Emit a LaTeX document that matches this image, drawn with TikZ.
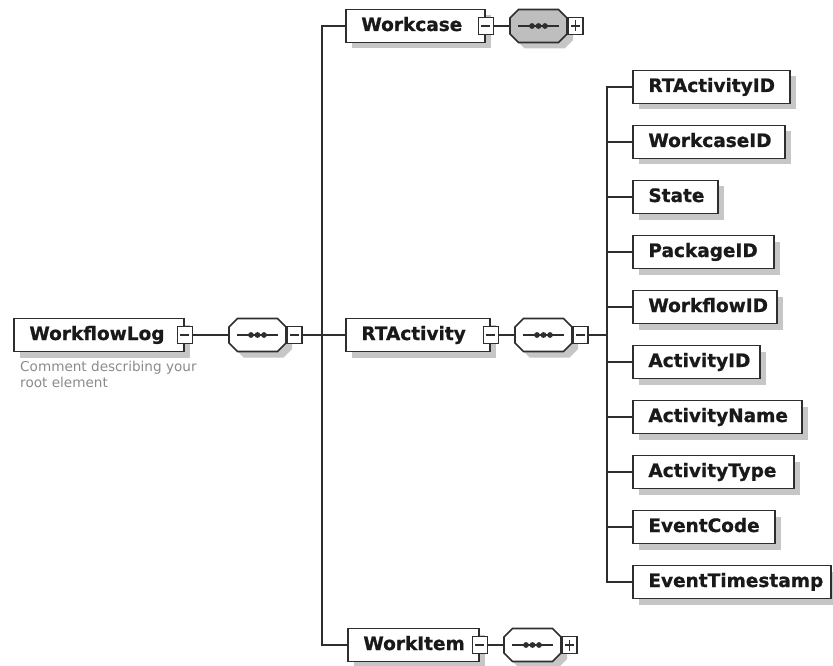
\documentclass[tikz,border=0pt]{standalone}
\usepackage{fontspec}
\setmainfont{DejaVu Sans}
\newfontfamily\elemfont{DejaVu Sans}[BoldFeatures={FakeBold=0.9}]
\usetikzlibrary{calc}

\definecolor{linecol}{HTML}{2E2E2E}
\definecolor{shadowgray}{HTML}{C6C6C6}
\definecolor{seqgray}{HTML}{BEBEBE}
\definecolor{notegray}{HTML}{8A8A8A}

% Sequence compositor: octagon with an ellipsis line, named rectangle node on top
\newcommand\compositor[4]{%
  \begin{scope}[shift={(#2,#3)}]
    \fill[shadowgray] (6,-2) -- (14.5,-10.5) -- (54.5,-10.5) -- (63,-2) -- (63,14) -- (54.5,22.5) -- (14.5,22.5) -- (6,14) -- cycle;
    \draw[linecol, line width=1.7pt, fill=#4] (0,-8) -- (8.5,-16.5) -- (48.5,-16.5) -- (57,-8) -- (57,8) -- (48.5,16.5) -- (8.5,16.5) -- (0,8) -- cycle;
    \draw[linecol, line width=1.4pt] (8,0) -- (49,0);
    \foreach \dx in {22,28.5,35} \fill[linecol] (\dx,0) circle[radius=2.9pt];
    \node[anchor=west, minimum width=57pt, minimum height=33pt, inner sep=0pt] (#1) at (0,0) {};
  \end{scope}}

\tikzset{
  x=1pt, y=-1pt,
  elem/.style={draw=linecol, line width=1.8pt, fill=white, anchor=west,
    minimum height=33pt, inner xsep=15.5pt, inner ysep=0pt, text width=#1, align=left,
    text height=13.5pt, text depth=3.5pt, text=black!90,
    font=\elemfont\bfseries\fontsize{18.5}{20}\selectfont,
    preaction={fill=shadowgray, draw=none, transform canvas={xshift=6pt, yshift=-6pt}}},
  toggle/.style={draw=linecol, line width=1.4pt, fill=white, minimum width=15pt,
    minimum height=17pt, inner sep=0pt},
  minusbox/.style={toggle, path picture={
    \draw[linecol, line width=1.2pt] ($(path picture bounding box.west)+(3pt,0)$) -- ($(path picture bounding box.east)+(-3pt,0)$);}},
  plusbox/.style={toggle, path picture={
    \draw[linecol, line width=1.2pt] ($(path picture bounding box.west)+(3pt,0)$) -- ($(path picture bounding box.east)+(-3pt,0)$)
      ($(path picture bounding box.north)+(0,-3pt)$) -- ($(path picture bounding box.south)+(0,3pt)$);}},
  conn/.style={draw=linecol, line width=1.7pt},
}

\begin{document}
\begin{tikzpicture}
\useasboundingbox (0,0) rectangle (833,666);

% root element
\node[elem=139pt] (root) at (13,335) {WorkflowLog};
\node[minusbox] (rootm) at (root.east) {};
\node[anchor=north west, inner sep=0pt, text=notegray, align=left,
  font=\fontsize{13.6}{15.5}\selectfont] (note) at (20,361) {Comment describing your\\root element};
\compositor{rootseq}{229}{335}{white}
\node[minusbox, anchor=west] (rootseqm) at (rootseq.east) {};
\draw[conn] (rootm.east) -- (rootseq.west);

% first level children
\node[elem=108pt] (wcase) at (345,26) {Workcase};
\node[minusbox] (wcasem) at (wcase.east) {};
\compositor{wcaseseq}{510}{26}{seqgray}
\node[plusbox, anchor=west] (wcaseseqp) at (wcaseseq.east) {};
\draw[conn] (wcasem.east) -- (wcaseseq.west);

\node[elem=113pt] (rtact) at (345,335) {RTActivity};
\node[minusbox] (rtactm) at (rtact.east) {};
\compositor{rtseq}{515}{335}{white}
\node[minusbox, anchor=west] (rtseqm) at (rtseq.east) {};
\draw[conn] (rtactm.east) -- (rtseq.west);

\node[elem=100pt] (witem) at (347,645) {WorkItem};
\node[minusbox] (witemm) at (witem.east) {};
\compositor{witemseq}{504}{645}{white}
\node[plusbox, anchor=west] (witemseqp) at (witemseq.east) {};
\draw[conn] (witemm.east) -- (witemseq.west);

% bus joining the root sequence to its children
\coordinate (bus) at (322,335);
\draw[conn] (rootseqm.east) -- (rtact.west);
\draw[conn] (wcase.west) -| (bus) |- (witem.west);

% RTActivity children
\node[elem=126pt] (c1) at (632,87) {RTActivityID};
\node[elem=121pt] (c2) at (632,142) {WorkcaseID};
\node[elem=54pt] (c3) at (632,197) {State};
\node[elem=110pt] (c4) at (632,252) {PackageID};
\node[elem=113pt] (c5) at (632,307) {WorkflowID};
\node[elem=96pt] (c6) at (632,362) {ActivityID};
\node[elem=138pt] (c7) at (632,417) {ActivityName};
\node[elem=130pt] (c8) at (632,472) {ActivityType};
\node[elem=111pt] (c9) at (632,527) {EventCode};
\node[elem=167pt] (c10) at (632,582) {EventTimestamp};

\coordinate (kbus) at (607,335);
\draw[conn] (rtseqm.east) -- (kbus);
\draw[conn] (c1.west) -| (kbus) |- (c10.west);
\foreach \k in {2,...,9} \draw[conn] (c\k.west) -- (kbus |- c\k.west);
\end{tikzpicture}
\end{document}
